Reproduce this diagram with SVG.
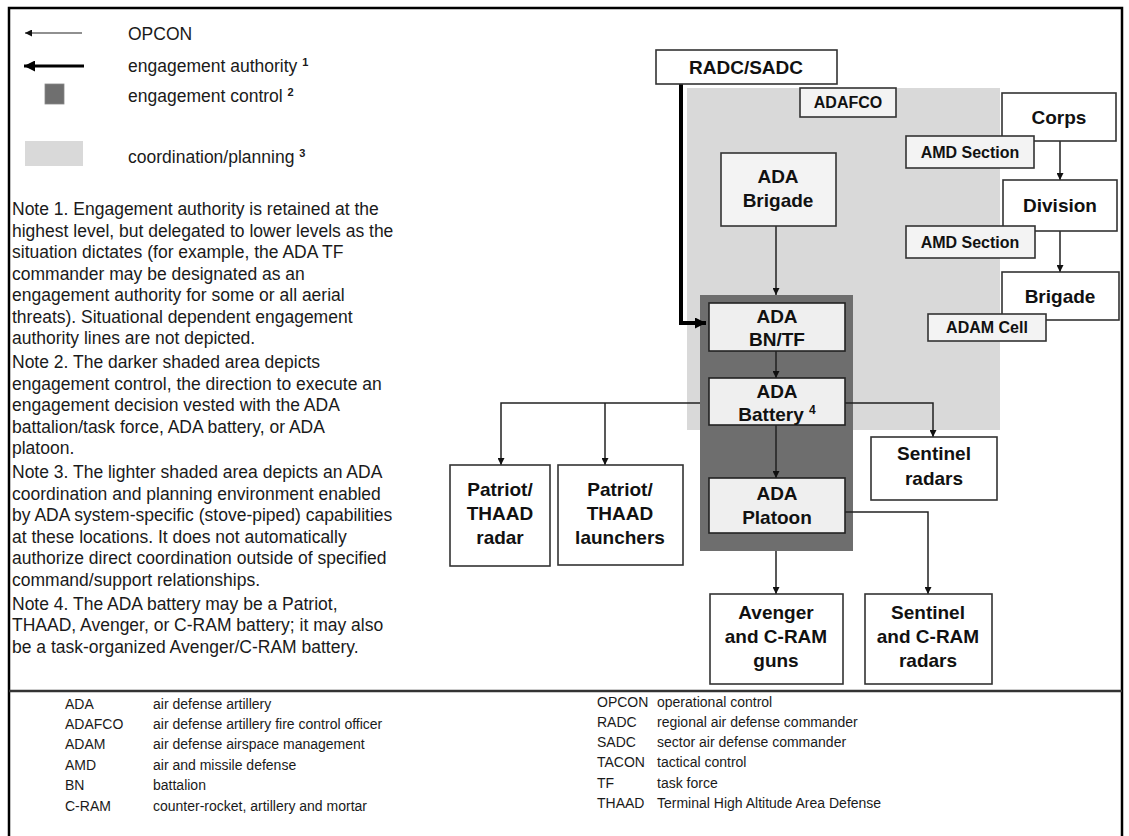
<svg xmlns="http://www.w3.org/2000/svg" width="1129" height="836" viewBox="0 0 1129 836">
<defs>
<marker id="ah" viewBox="0 0 10 10" refX="10" refY="5" markerWidth="7" markerHeight="7" markerUnits="userSpaceOnUse" orient="auto"><path d="M0,0 L10,5 L0,10 z" fill="#111"/></marker>
<marker id="ahb" viewBox="0 0 10 10" refX="10" refY="5" markerWidth="11" markerHeight="11" markerUnits="userSpaceOnUse" orient="auto"><path d="M0,0 L10,5 L0,10 z" fill="#000"/></marker>
<style>
.t{font-family:"Liberation Sans",Arial,sans-serif;fill:#1a1a1a}
.leg{font-size:17.5px}
.note{font-size:17.5px}
.gl{font-size:14px}
.nl{font-family:"Liberation Sans",Arial,sans-serif;font-weight:bold;font-size:19px;fill:#111;text-anchor:middle}
.sl{font-family:"Liberation Sans",Arial,sans-serif;font-weight:bold;font-size:16px;fill:#111;text-anchor:middle}
.box{fill:#ffffff;stroke:#333;stroke-width:1.6}
.sbox{fill:#f3f3f3;stroke:#333;stroke-width:1.6}
.ibox{fill:#efefef;stroke:#222;stroke-width:1.6}
.c{fill:none;stroke:#222;stroke-width:1.5}
</style>
</defs>
<rect width="1129" height="836" fill="#ffffff"/>
<path d="M9,836 V8 H1122 V836" fill="none" stroke="#000" stroke-width="2.5"/>
<line x1="9" y1="691" x2="1122" y2="691" stroke="#333" stroke-width="2.5"/>

<g id="legend">
<line x1="82" y1="33" x2="25" y2="33" stroke="#222" stroke-width="1.2" marker-end="url(#ah)"/>
<line x1="84" y1="66" x2="24" y2="66" stroke="#000" stroke-width="3.2" marker-end="url(#ahb)"/>
<rect x="45" y="84" width="19" height="20" fill="#6f6f6f" stroke="#888" stroke-width="0.8"/>
<rect x="25" y="141" width="58" height="25" fill="#d9d9d9"/>
<text class="t leg" x="128" y="40">OPCON</text>
<text class="t leg" x="128" y="72">engagement authority <tspan font-size="11" dy="-6" font-weight="bold">1</tspan></text>
<text class="t leg" x="128" y="102">engagement control <tspan font-size="11" dy="-6" font-weight="bold">2</tspan></text>
<text class="t leg" x="128" y="163">coordination/planning <tspan font-size="11" dy="-6" font-weight="bold">3</tspan></text>
</g>

<g id="notes" class="t note">
<text x="12" y="215">Note 1. Engagement authority is retained at the</text>
<text x="12" y="236.5">highest level, but delegated to lower levels as the</text>
<text x="12" y="258">situation dictates (for example, the ADA TF</text>
<text x="12" y="279.5">commander may be designated as an</text>
<text x="12" y="301">engagement authority for some or all aerial</text>
<text x="12" y="322.5">threats). Situational dependent engagement</text>
<text x="12" y="344">authority lines are not depicted.</text>
<text x="12" y="368">Note 2. The darker shaded area depicts</text>
<text x="12" y="389.5">engagement control, the direction to execute an</text>
<text x="12" y="411">engagement decision vested with the ADA</text>
<text x="12" y="432.5">battalion/task force, ADA battery, or ADA</text>
<text x="12" y="454">platoon.</text>
<text x="12" y="478">Note 3. The lighter shaded area depicts an ADA</text>
<text x="12" y="499.5">coordination and planning environment enabled</text>
<text x="12" y="521">by ADA system-specific (stove-piped) capabilities</text>
<text x="12" y="542.5">at these locations. It does not automatically</text>
<text x="12" y="564">authorize direct coordination outside of specified</text>
<text x="12" y="585.5">command/support relationships.</text>
<text x="12" y="609.5">Note 4. The ADA battery may be a Patriot,</text>
<text x="12" y="631">THAAD, Avenger, or C-RAM battery; it may also</text>
<text x="12" y="652.5">be a task-organized Avenger/C-RAM battery.</text>
</g>

<rect id="coordination-area" x="687" y="88" width="313" height="342" fill="#d9d9d9"/>
<rect id="engagement-control-area" x="700" y="295" width="153" height="256" fill="#6e6e6e"/>

<g id="connectors">
<path d="M681,84 V323 H706" fill="none" stroke="#000" stroke-width="4" marker-end="url(#ahb)"/>
<line class="c" x1="776" y1="226" x2="776" y2="295" stroke="#555" marker-end="url(#ah)"/>
<line class="c" x1="776" y1="351" x2="776" y2="378" marker-end="url(#ah)"/>
<line class="c" x1="776" y1="425" x2="776" y2="478" stroke-width="2" marker-end="url(#ah)"/>
<path class="c" d="M845,403 H933 V437" marker-end="url(#ah)"/>
<path class="c" d="M700,403 H501 V465" marker-end="url(#ah)"/>
<line class="c" x1="605" y1="403" x2="605" y2="465" marker-end="url(#ah)"/>
<line class="c" x1="776" y1="551" x2="776" y2="594" stroke="#444" marker-end="url(#ah)"/>
<path class="c" d="M845,512 H928 V594" marker-end="url(#ah)"/>
<line class="c" x1="1060" y1="141" x2="1060" y2="180" marker-end="url(#ah)"/>
<line class="c" x1="1060" y1="231" x2="1060" y2="272" marker-end="url(#ah)"/>
</g>

<g id="n-radc"><rect class="box" x="656" y="50" width="181" height="34"/><text class="nl" x="746" y="74">RADC/SADC</text></g>
<g id="n-adafco"><rect class="sbox" x="800" y="88" width="96" height="29"/><text class="sl" x="848" y="108" font-size="14.5">ADAFCO</text></g>
<g id="n-corps"><rect class="box" x="1002" y="93" width="114" height="48"/><text class="nl" x="1059" y="124">Corps</text></g>
<g id="n-amd1"><rect class="sbox" x="906" y="136" width="128" height="32"/><text class="sl" x="970" y="158">AMD Section</text></g>
<g id="n-division"><rect class="box" x="1003" y="180" width="114" height="51"/><text class="nl" x="1060" y="212">Division</text></g>
<g id="n-amd2"><rect class="sbox" x="906" y="226" width="129" height="32"/><text class="sl" x="970" y="248">AMD Section</text></g>
<g id="n-brigade"><rect class="box" x="1002" y="272" width="117" height="48"/><text class="nl" x="1060" y="303">Brigade</text></g>
<g id="n-adam"><rect class="sbox" x="928" y="314" width="118" height="27"/><text class="sl" x="987" y="333">ADAM Cell</text></g>
<g id="n-adabde"><rect class="sbox" x="721" y="153" width="115" height="73"/><text class="nl" x="778" y="183">ADA</text><text class="nl" x="778" y="207">Brigade</text></g>
<g id="n-bntf"><rect class="ibox" x="709" y="303" width="136" height="48"/><text class="nl" x="777" y="323">ADA</text><text class="nl" x="777" y="346">BN/TF</text></g>
<g id="n-battery"><rect class="ibox" x="709" y="378" width="136" height="47"/><text class="nl" x="777" y="398">ADA</text><text class="nl" x="777" y="421">Battery <tspan font-size="12" dy="-7">4</tspan></text></g>
<g id="n-platoon"><rect class="ibox" x="709" y="478" width="136" height="55"/><text class="nl" x="777" y="500">ADA</text><text class="nl" x="777" y="524">Platoon</text></g>
<g id="n-sentinel"><rect class="box" x="871" y="437" width="126" height="63"/><text class="nl" x="934" y="460">Sentinel</text><text class="nl" x="934" y="485">radars</text></g>
<g id="n-pradar"><rect class="box" x="450" y="465" width="100" height="101"/><text class="nl" x="500" y="496">Patriot/</text><text class="nl" x="500" y="520">THAAD</text><text class="nl" x="500" y="544">radar</text></g>
<g id="n-plaunch"><rect class="box" x="558" y="465" width="125" height="100"/><text class="nl" x="620" y="496">Patriot/</text><text class="nl" x="620" y="520">THAAD</text><text class="nl" x="620" y="544">launchers</text></g>
<g id="n-avenger"><rect class="box" x="710" y="594" width="133" height="90"/><text class="nl" x="776" y="619">Avenger</text><text class="nl" x="776" y="643">and C-RAM</text><text class="nl" x="776" y="667">guns</text></g>
<g id="n-sentcram"><rect class="box" x="865" y="594" width="127" height="90"/><text class="nl" x="928" y="619">Sentinel</text><text class="nl" x="928" y="643">and C-RAM</text><text class="nl" x="928" y="667">radars</text></g>

<g id="glossary" class="t gl">
<text x="65" y="709">ADA</text><text x="153" y="709">air defense artillery</text>
<text x="65" y="729">ADAFCO</text><text x="153" y="729">air defense artillery fire control officer</text>
<text x="65" y="749">ADAM</text><text x="153" y="749">air defense airspace management</text>
<text x="65" y="770">AMD</text><text x="153" y="770">air and missile defense</text>
<text x="65" y="790">BN</text><text x="153" y="790">battalion</text>
<text x="65" y="811">C-RAM</text><text x="153" y="811">counter-rocket, artillery and mortar</text>
<text x="597" y="707">OPCON</text><text x="657" y="707">operational control</text>
<text x="597" y="727">RADC</text><text x="657" y="727">regional air defense commander</text>
<text x="597" y="747">SADC</text><text x="657" y="747">sector air defense commander</text>
<text x="597" y="767">TACON</text><text x="657" y="767">tactical control</text>
<text x="597" y="788">TF</text><text x="657" y="788">task force</text>
<text x="597" y="808">THAAD</text><text x="657" y="808">Terminal High Altitude Area Defense</text>
</g>
</svg>
